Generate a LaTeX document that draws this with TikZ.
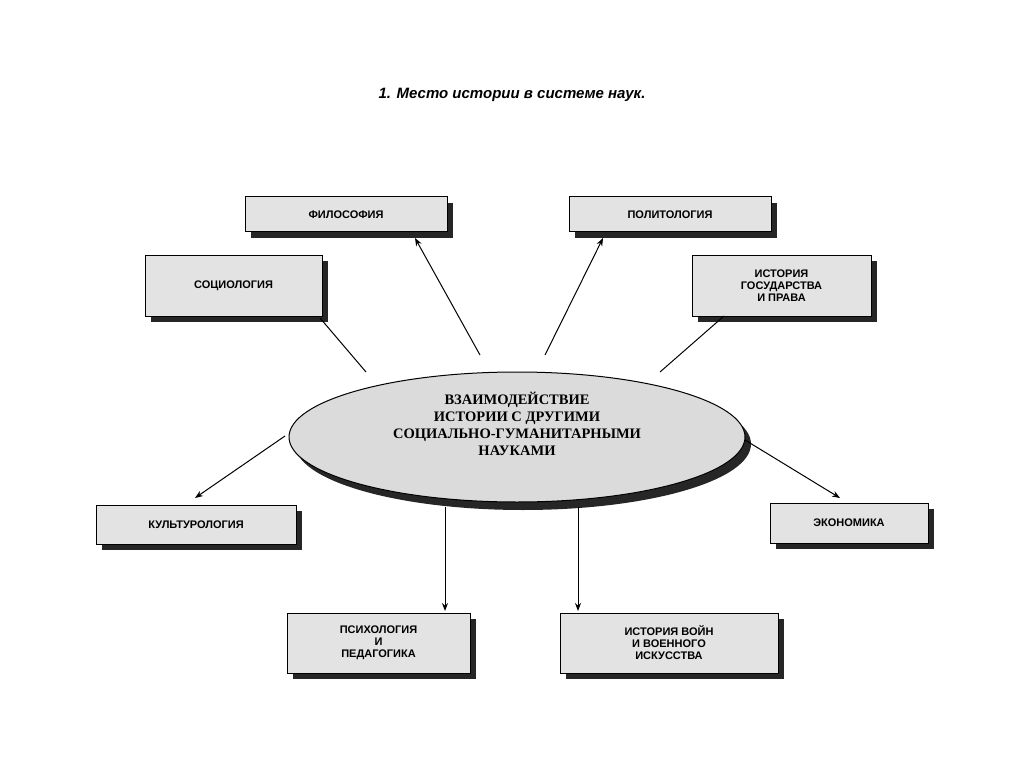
\documentclass[tikz,border=0pt]{standalone}
\usepackage{fontspec}
\setmainfont{Liberation Sans}
\newfontfamily\serifb{Liberation Serif}
\usetikzlibrary{arrows.meta,shapes.geometric}
\begin{document}
\begin{tikzpicture}[x=1pt,y=-1pt,
  bx/.style={draw=black,line width=1pt,fill=gray!22,align=center,font=\bfseries\fontsize{11}{12}\selectfont,inner sep=0pt},
  sh/.style={fill=black!85},
  ar/.style={line width=1pt,-{Stealth[length=8pt,width=6pt]}},
  ln/.style={line width=1pt}]
\useasboundingbox (0,0) rectangle (1024,767);
\node[font=\bfseries\itshape\fontsize{15}{18}\selectfont] (t) at (512,95) {1. Место истории в системе наук.};
\newcommand\mybox[6]{%
  \fill[sh] (#2+6,#3+6) rectangle (#4+6,#5+6);
  \node[bx,minimum width=#4-#2,minimum height=#5-#3] (#1) at ({(#2+#4)/2},{(#3+#5)/2}) {#6};}
\mybox{fil}{245}{197}{447}{232}{ФИЛОСОФИЯ}
\mybox{pol}{569}{197}{771}{232}{ПОЛИТОЛОГИЯ}
\mybox{soc}{145}{255}{322}{316}{СОЦИОЛОГИЯ}
\mybox{igp}{692}{255}{871}{316}{ИСТОРИЯ\\ГОСУДАРСТВА\\И ПРАВА}
\mybox{kul}{96}{505}{296}{544}{КУЛЬТУРОЛОГИЯ}
\mybox{eco}{770}{503}{928}{543}{ЭКОНОМИКА}
\mybox{psy}{287}{613}{470}{673}{ПСИХОЛОГИЯ\\И\\ПЕДАГОГИКА}
\mybox{voi}{560}{613}{778}{673}{ИСТОРИЯ ВОЙН\\И ВОЕННОГО\\ИСКУССТВА}
\fill[black!85] (523,444) ellipse [x radius=228,y radius=66];
\node[draw,line width=1pt,ellipse,fill=gray!28,minimum width=456,minimum height=130,inner sep=0pt] (el) at (517,437) {};
\node[align=center,font=\serifb\bfseries\fontsize{14.5}{17}\selectfont] (elt) at (517,424) {ВЗАИМОДЕЙСТВИЕ\\ИСТОРИИ С ДРУГИМИ\\СОЦИАЛЬНО-ГУМАНИТАРНЫМИ\\НАУКАМИ};
\coordinate (a1) at (480,355); \coordinate (a2) at (545,355);
\coordinate (a3) at (366,372); \coordinate (a4) at (660,372);
\coordinate (a5) at (285,436); \coordinate (a6) at (745,440);
\coordinate (a7) at (445,507); \coordinate (a8) at (578,507);
\draw[ar] (a1) -- (415,238);
\draw[ar] (a2) -- (603,238);
\draw[ln] (a3) -- (320,318);
\draw[ln] (a4) -- (724,316);
\draw[ar] (a5) -- (195,498);
\draw[ar] (a6) -- (840,498);
\draw[ar] (a7) -- (445,611);
\draw[ar] (a8) -- (578,611);
\end{tikzpicture}
\end{document}
